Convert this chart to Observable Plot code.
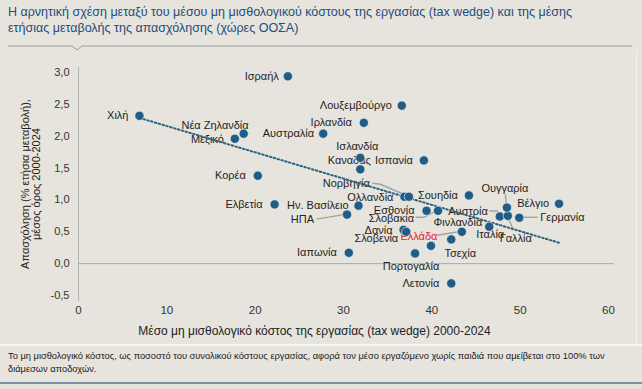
<!DOCTYPE html>
<html>
<head>
<meta charset="utf-8">
<script src="https://cdn.jsdelivr.net/npm/d3@7"></script>
<script src="https://cdn.jsdelivr.net/npm/@observablehq/plot@0.6"></script>
<style>
  html, body { margin: 0; padding: 0; }
  body { width: 642px; height: 389px; overflow: hidden; background: #e6e4dd; font-family: "Liberation Sans", Arial, sans-serif; position: relative; }
  #title { position: absolute; left: 8px; top: 4px; font-size: 12.5px; line-height: 16px; color: #1f4d7c; white-space: nowrap; }
  #sep { position: absolute; left: 0; top: 40px; }
  #edge { position: absolute; left: 636px; top: 50px; width: 1px; height: 295px; background: #f4f3ef; }
  #chart { position: absolute; left: 0; top: 50px; }
  #foot { position: absolute; left: 0; top: 344px; width: 642px; height: 40px; border-top: 2px solid #f6f5f1; border-bottom: 2px solid #7d8ea6; box-sizing: border-box; font-size: 9.3px; line-height: 13px; color: #1a1a1a; padding: 4px 8px 0 8px; }
</style>
</head>
<body>
<div id="title">Η αρνητική σχέση μεταξύ του μέσου μη μισθολογικού κόστους της εργασίας (tax wedge) και της μέσης<br>ετήσιας μεταβολής της απασχόλησης (χώρες ΟΟΣΑ)</div>
<svg id="sep" width="642" height="12"><polyline points="8,6 72,6 77,10 82,6 632,6" fill="none" stroke="#9c9c9c" stroke-width="1"/></svg>
<div id="edge"></div>
<div id="chart"></div>
<div id="foot">Το μη μισθολογικό κόστος, ως ποσοστό του συνολικού κόστους εργασίας,  αφορά τον μέσο εργαζόμενο χωρίς παιδιά που αμείβεται στο 100% των<br>διάμεσων αποδοχών.</div>
<script>
// ---- Data ----
const countries = ["Χιλή","Ισραήλ","Νέα Ζηλανδία","Μεξικό","Κορέα","Ελβετία","Αυστραλία","Λουξεμβούργο","Ιρλανδία","Ισλανδία","Καναδάς","Ισπανία","Ολλανδία","Νορβηγία","Σουηδία","Ην. Βασίλειο","ΗΠΑ","Εσθονία","Σλοβακία","Δανία","Σλοβενία","Ελλάδα","Πορτογαλία","Ιαπωνία","Τσεχία","Φινλανδία","Ιταλία","Αυστρία","Γαλλία","Ουγγαρία","Γερμανία","Βέλγιο","Λετονία"];
const taxWedge = [6.9,23.7,18.7,17.7,20.3,22.2,27.7,36.6,32.3,31.9,31.9,39.1,36.9,37.4,44.2,31.7,30.4,39.4,40.7,36.8,37.1,39.9,38.1,30.6,42.2,43.4,46.5,47.7,48.6,48.5,49.9,54.4,42.2];
const employmentGrowth = [2.32,2.94,2.04,1.96,1.38,0.93,2.04,2.48,2.21,1.66,1.48,1.62,1.05,1.05,1.07,0.91,0.77,0.83,0.83,0.53,0.50,0.28,0.16,0.17,0.38,0.50,0.58,0.74,0.75,0.88,0.72,0.94,-0.31];
const xTicks = [0,10,20,30,40,50,60];
const yTicks = [-0.5,0,0.5,1,1.5,2,2.5,3];
const highlight = "Ελλάδα";
const xLabel = "Μέσο μη μισθολογικό κόστος της εργασίας (tax wedge) 2000-2024";
const yLabel = "Απασχόληση (% ετήσια μεταβολή),\nμέσος όρος 2000-2024";

const data = countries.map((name, i) => ({name, x: taxWedge[i], y: employmentGrowth[i]}));

// ---- Label placement (pixel offsets from the dot) ----
const placement = {
  "Χιλή": [-11, 0, "end"], "Ισραήλ": [-9, 0, "end"], "Νέα Ζηλανδία": [5, -8, "end"],
  "Μεξικό": [-11, 1, "end"], "Κορέα": [-12, 0, "end"], "Ελβετία": [-12, 0, "end"],
  "Αυστραλία": [-9, 0, "end"], "Λουξεμβούργο": [-10, 0, "end"], "Ιρλανδία": [-12, 0, "end"],
  "Ισλανδία": [-3, -11, "middle"], "Καναδάς": [-11, -9, "middle"], "Ισπανία": [-11, 0, "end"],
  "Ολλανδία": [-11, 1, "end"], "Νορβηγία": [-39, -13, "end"], "Σουηδία": [-11, 0, "end"],
  "Ην. Βασίλειο": [-10, 0, "end"], "ΗΠΑ": [-33, 5, "end"], "Εσθονία": [-12, 0, "end"],
  "Σλοβακία": [-24, 8, "end"], "Δανία": [-11, 1, "end"], "Σλοβενία": [-8, 7, "end"],
  "Ελλάδα": [-12, -9, "middle"], "Πορτογαλία": [-4, 13, "middle"], "Ιαπωνία": [-12, 0, "end"],
  "Τσεχία": [9, 14, "middle"], "Φινλανδία": [-4, -9, "middle"], "Ιταλία": [1, 8, "middle"],
  "Αυστρία": [-12, -5, "end"], "Γαλλία": [8, 23, "middle"], "Ουγγαρία": [-2, -19, "middle"],
  "Γερμανία": [21, 0, "start"], "Βέλγιο": [-10, 0, "end"], "Λετονία": [-12, 0, "end"]
};
// leader line offsets (pixels from the dot)
const leaders = {
  "Νορβηγία": [[-36, -13], [-28, -12], [0, 0]],
  "ΗΠΑ": [[-30, 5], [0, 0]],
  "Σλοβακία": [[-22, 7], [-14, 7], [0, 0]],
  "Αυστρία": [[-10, -5], [-2, -5], [0, 0]],
  "Ουγγαρία": [[-1, -13], [0, 0]],
  "Γερμανία": [[4, 0], [19, 0]],
  "Γαλλία": [[0, 0], [6, 15]],
  "Φινλανδία": [[-24, 4], [0, 0]]
};

const dotColor = "#1f5d87";

function leaderMark(index, scales, values, dimensions, context) {
  const g = d3.create("svg:g").attr("fill", "none").attr("stroke", "#a3a3a3").attr("stroke-width", 1.4);
  for (const d of data) {
    const pts = leaders[d.name];
    if (!pts) continue;
    const cx = scales.x(d.x), cy = scales.y(d.y);
    g.append("polyline").attr("points", pts.map(([ox, oy]) => `${cx + ox},${cy + oy}`).join(" "));
  }
  return g.node();
}

const fmt = v => d3.format(".1f")(v).replace(".", ",").replace("−", "-");

const plot = Plot.plot({
  width: 642,
  height: 290,
  marginTop: 22,
  marginBottom: 45,
  marginLeft: 78,
  marginRight: 34,
  style: {background: "transparent", fontFamily: "Liberation Sans, Arial, sans-serif", color: "#333"},
  x: {domain: [0, 60], ticks: xTicks},
  y: {domain: [-0.5, 3], ticks: yTicks},
  marks: [
    Plot.ruleY([0], {stroke: "#a9a9a9", strokeWidth: 1, insetRight: -6}),
    Plot.ruleX([0], {stroke: "#b3b3b3", strokeWidth: 1, insetTop: -5, insetBottom: -6}),
    Plot.axisX({ticks: xTicks, tickSize: 0, tickPadding: 10, fontSize: 11.5, label: null, tickFormat: d => String(d), fill: "#333"}),
    Plot.axisY({ticks: yTicks, tickSize: 0, tickPadding: 9, fontSize: 11, label: null, tickFormat: fmt, fill: "#333"}),
    Plot.text([xLabel], {frameAnchor: "bottom", dx: -29, dy: 36, text: d => d, fontSize: 12, fill: "#222", textAnchor: "middle", lineAnchor: "middle"}),
    Plot.text([yLabel], {frameAnchor: "left", dx: -48, dy: 0, rotate: -90, text: d => d, fontSize: 11, fill: "#222", textAnchor: "middle", lineAnchor: "middle", lineHeight: 1.0}),
    leaderMark,
    ...data.map(d => {
      const [dx, dy, anchor] = placement[d.name];
      return Plot.text([d], {x: "x", y: "y", text: "name", dx, dy, textAnchor: anchor, fontSize: 11, fill: d.name === highlight ? "#e3261f" : "#1e1e1e"});
    }),
    Plot.linearRegressionY(data, {x: "x", y: "y", ci: 0, stroke: "#2b6585", strokeWidth: 2, strokeDasharray: "1.6,2.4"}),
    Plot.dot(data, {x: "x", y: "y", r: 4.6, fill: dotColor, stroke: "#f2f1ec", strokeWidth: 0.8, strokeOpacity: 0.8})
  ]
});
document.getElementById("chart").appendChild(plot);
</script>
</body>
</html>
